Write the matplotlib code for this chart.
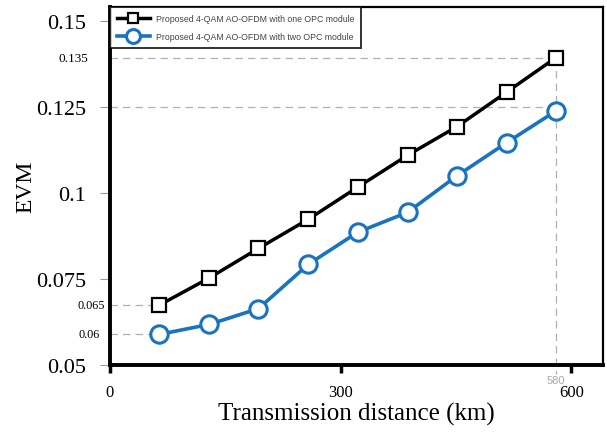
import matplotlib.pyplot as plt
from matplotlib.transforms import blended_transform_factory

# transmission distance (km)
distance = [64, 129, 193, 258, 322, 387, 451, 516, 580]
# EVM
evm_one_opc = [0.0674, 0.0753, 0.0839, 0.0924, 0.1017, 0.1110, 0.1193, 0.1294, 0.1394]
evm_two_opc = [0.0589, 0.0618, 0.0664, 0.0793, 0.0886, 0.0944, 0.1050, 0.1147, 0.1239]

y_ticks = [0.05, 0.075, 0.1, 0.125, 0.15]
y_tick_labels = ['0.05', '0.075', '0.1', '0.125', '0.15']
x_ticks = [0, 300, 600]
label_one = 'Proposed 4-QAM AO-OFDM with one OPC module'
label_two = 'Proposed 4-QAM AO-OFDM with two OPC module'

blue = '#1874c0'
guide = '#b0b0b0'

fig = plt.figure(figsize=(6.07, 4.35), dpi=100)
ax = fig.add_axes([0.1812, 0.1586, 0.8122, 0.823])

ax.plot(distance, evm_one_opc, color='black', lw=2.5, marker='s', ms=9.5,
        mfc='white', mec='black', mew=1.6, label=label_one, zorder=4)
ax.plot(distance, evm_two_opc, color=blue, lw=2.6, marker='o', ms=12.5,
        mfc='white', mec=blue, mew=2.2, label=label_two, zorder=4)

ax.set_xlim(0, 641)
ax.set_ylim(0.05, 0.1541)

# dashed guide lines
dash = dict(color=guide, lw=0.9, ls=(0, (6, 4)), zorder=1)
ax.plot([0, distance[-1]], [evm_one_opc[-1]] * 2, **dash)
ax.plot([0, distance[-1]], [0.125, 0.125], **dash)
ax.plot([0, distance[0]], [evm_one_opc[0]] * 2, **dash)
ax.plot([0, distance[0]], [evm_two_opc[0]] * 2, **dash)
ax.plot([distance[-1], distance[-1]], [evm_one_opc[-1], 0.0475], clip_on=False, **dash)

trans = blended_transform_factory(ax.transAxes, ax.transData)
ax.text(-0.045, evm_one_opc[-1], '0.135', transform=trans, ha='right', va='center',
        fontsize=9.5, family='Liberation Serif')
ax.text(-0.01, evm_one_opc[0], '0.065', transform=trans, ha='right', va='center',
        fontsize=8.8, family='Liberation Serif')
ax.text(-0.02, evm_two_opc[0], '0.06', transform=trans, ha='right', va='center',
        fontsize=8.8, family='Liberation Serif')
ax.text(distance[-1], 0.0472, '580', ha='center', va='top', fontsize=8,
        color='#a8a8a8', family='Liberation Sans')

ax.set_yticks(y_ticks)
ax.set_yticklabels(y_tick_labels, family='Liberation Serif', fontsize=16)
ax.tick_params(axis='y', length=7, width=0.8, color='#999999', pad=10)
ax.set_xticks(x_ticks)
ax.set_xticklabels([str(t) for t in x_ticks], family='Liberation Serif', fontsize=12)
ax.tick_params(axis='x', length=6, width=2.5, color='black', pad=8)

ax.set_xlabel('Transmission distance (km)', family='Liberation Serif', fontsize=18, labelpad=1)
ax.set_ylabel('EVM', family='Liberation Serif', fontsize=17, labelpad=0)

for side in ['left', 'bottom']:
    ax.spines[side].set_linewidth(2.8)
for side in ['top', 'right']:
    ax.spines[side].set_linewidth(1.6)

leg = ax.legend(loc='upper left', bbox_to_anchor=(0.0, 1.0),
                prop={'family': 'Liberation Sans', 'size': 6.3}, frameon=True,
                fancybox=False, handlelength=3.8, handletextpad=0.7, borderpad=0.75,
                labelspacing=1.1, markerscale=0.8, borderaxespad=0.0)
leg.get_frame().set_edgecolor('black')
leg.get_frame().set_linewidth(1.4)
for t in leg.get_texts():
    t.set_color('#444444')

fig.savefig('out.png', dpi=100)
